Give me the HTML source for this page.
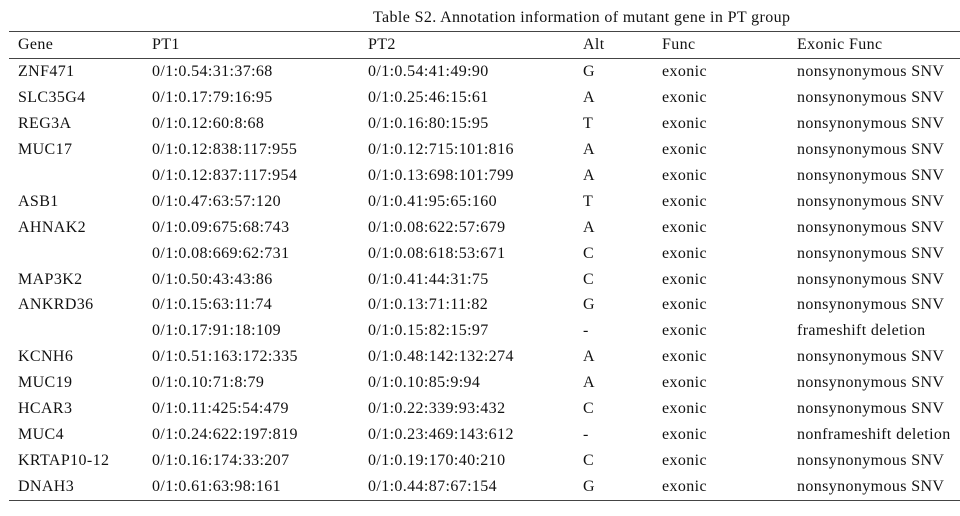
<!DOCTYPE html>
<html><head><meta charset="utf-8"><style>
body{margin:0;width:960px;height:516px;background:#fff;position:relative;overflow:hidden;font-family:"Liberation Serif",serif;font-size:16px;letter-spacing:0.38px;color:#111}
.t{position:absolute;white-space:nowrap;line-height:18px}
.l{position:absolute;left:9px;width:951px;height:1px;background:#444}
</style></head><body>
<div class="t" style="left:373px;top:9px">Table S2. Annotation information of mutant gene in PT group</div>
<div class="l" style="top:31px"></div>
<div class="l" style="top:58px"></div>
<div class="l" style="top:500px"></div>
<div id="c"></div>
<script>
var rows=[["Gene","PT1","PT2","Alt","Func","Exonic Func"],
["ZNF471","0/1:0.54:31:37:68","0/1:0.54:41:49:90","G","exonic","nonsynonymous SNV"],
["SLC35G4","0/1:0.17:79:16:95","0/1:0.25:46:15:61","A","exonic","nonsynonymous SNV"],
["REG3A","0/1:0.12:60:8:68","0/1:0.16:80:15:95","T","exonic","nonsynonymous SNV"],
["MUC17","0/1:0.12:838:117:955","0/1:0.12:715:101:816","A","exonic","nonsynonymous SNV"],
["","0/1:0.12:837:117:954","0/1:0.13:698:101:799","A","exonic","nonsynonymous SNV"],
["ASB1","0/1:0.47:63:57:120","0/1:0.41:95:65:160","T","exonic","nonsynonymous SNV"],
["AHNAK2","0/1:0.09:675:68:743","0/1:0.08:622:57:679","A","exonic","nonsynonymous SNV"],
["","0/1:0.08:669:62:731","0/1:0.08:618:53:671","C","exonic","nonsynonymous SNV"],
["MAP3K2","0/1:0.50:43:43:86","0/1:0.41:44:31:75","C","exonic","nonsynonymous SNV"],
["ANKRD36","0/1:0.15:63:11:74","0/1:0.13:71:11:82","G","exonic","nonsynonymous SNV"],
["","0/1:0.17:91:18:109","0/1:0.15:82:15:97","-","exonic","frameshift deletion"],
["KCNH6","0/1:0.51:163:172:335","0/1:0.48:142:132:274","A","exonic","nonsynonymous SNV"],
["MUC19","0/1:0.10:71:8:79","0/1:0.10:85:9:94","A","exonic","nonsynonymous SNV"],
["HCAR3","0/1:0.11:425:54:479","0/1:0.22:339:93:432","C","exonic","nonsynonymous SNV"],
["MUC4","0/1:0.24:622:197:819","0/1:0.23:469:143:612","-","exonic","nonframeshift deletion"],
["KRTAP10-12","0/1:0.16:174:33:207","0/1:0.19:170:40:210","C","exonic","nonsynonymous SNV"],
["DNAH3","0/1:0.61:63:98:161","0/1:0.44:87:67:154","G","exonic","nonsynonymous SNV"]];
var xs=[18,152,368,583,662,797],h="";
rows.forEach(function(r,i){var y=i==0?36:63+25.94*(i-1);
r.forEach(function(s,j){if(s)h+='<div class="t" style="left:'+xs[j]+'px;top:'+y+'px">'+s+'</div>';});});
document.getElementById("c").innerHTML=h;
</script>
</body></html>
